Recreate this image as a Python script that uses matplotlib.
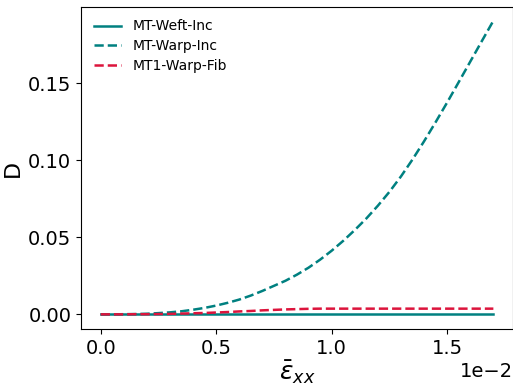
import numpy as np
import matplotlib
matplotlib.use("Agg")
import matplotlib.pyplot as plt
from matplotlib.ticker import MultipleLocator

# strain in units of 1e-2 (offset "1e-2" shown on axis)
strain = np.arange(0, 35) * 0.05 * 1e-2

D_weft_inc = [0.0] * 35
D_warp_inc = [0.0, 0.0, 0.0001, 0.0002, 0.0004, 0.0008, 0.0013, 0.002, 0.003, 0.0042,
              0.0057, 0.0075, 0.0096, 0.0122, 0.0152, 0.0185, 0.0218, 0.0258, 0.0303, 0.0355,
              0.0413, 0.0477, 0.0547, 0.0622, 0.0705, 0.0795, 0.0895, 0.1005, 0.1123, 0.1247,
              0.1375, 0.1507, 0.164, 0.1773, 0.1905]
D_warp_fib = [0.0, 0.0, 0.0, 0.0001, 0.0001, 0.0002, 0.0003, 0.0005, 0.0007, 0.0009,
              0.0012, 0.0015, 0.0019, 0.0022, 0.0026, 0.0029, 0.0032, 0.0034, 0.0036, 0.0037,
              0.0037, 0.0037, 0.0037, 0.0037, 0.0037, 0.0037, 0.0037, 0.0037, 0.0037, 0.0037,
              0.0037, 0.0037, 0.0037, 0.0037, 0.0037]

fig = plt.figure(figsize=(5.13, 3.83), dpi=100)
ax = fig.add_axes([0.158, 0.141, 0.842, 0.841])

ax.plot(strain, D_weft_inc, color="teal", lw=1.8, label="MT-Weft-Inc")
ax.plot(strain, D_warp_inc, color="teal", ls="--", lw=1.8, label="MT-Warp-Inc")
ax.plot(strain, D_warp_fib, color="crimson", ls="--", lw=1.8, label="MT1-Warp-Fib")

ax.ticklabel_format(axis="x", style="sci", scilimits=(0, 0))
ax.xaxis.set_major_locator(MultipleLocator(0.005))
ax.yaxis.set_major_locator(MultipleLocator(0.05))
ax.set_ylim(-0.0095, 0.1995)
ax.xaxis.get_offset_text().set_fontsize(14)
ax.tick_params(labelsize=14)
ax.set_xlabel(r"$\bar{\varepsilon}_{xx}$", fontsize=18, labelpad=1)
ax.set_ylabel("D", fontsize=16)
ax.legend(frameon=False, fontsize=10, loc="upper left", labelspacing=0.4)

fig.savefig("out.png", dpi=100)
